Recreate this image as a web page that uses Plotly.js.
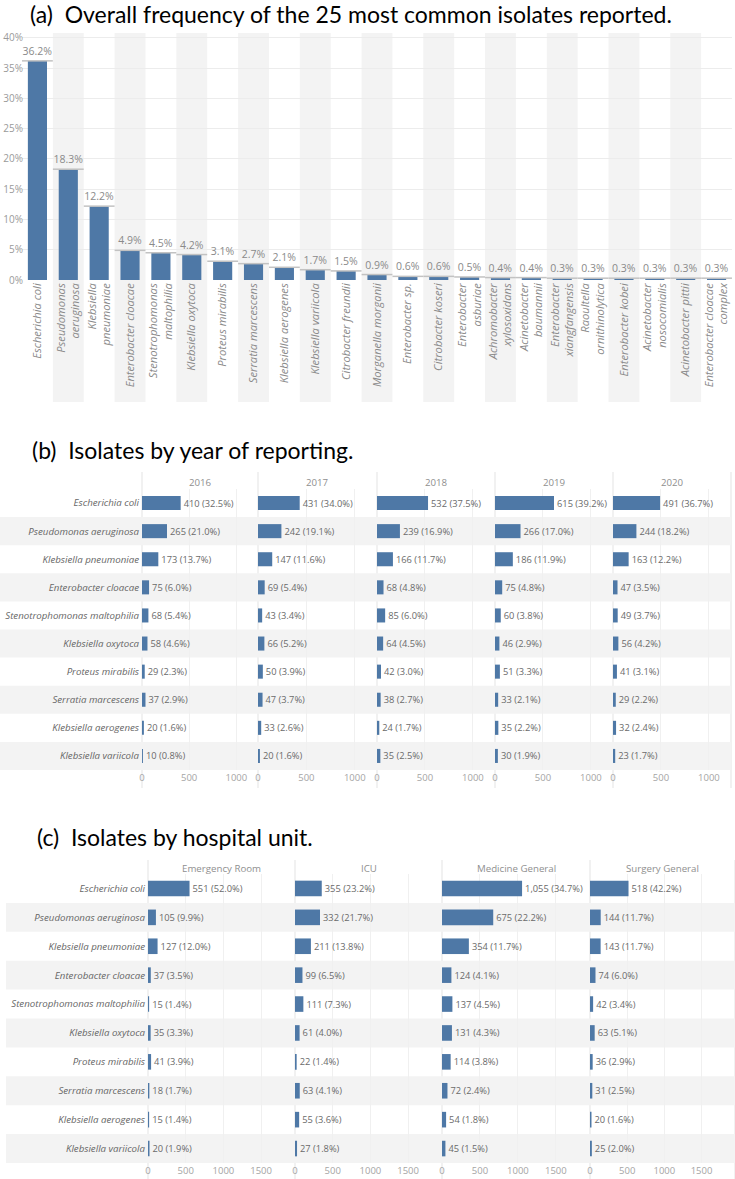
<!DOCTYPE html>
<html><head><meta charset="utf-8">
<script src="https://cdn.plot.ly/plotly-3.0.1.min.js"></script>
<style>html,body{margin:0;padding:0;background:#fff}#chart{width:735px;height:1179px}</style>
</head><body><div id="chart"></div>
<script>
// ---------- Data: panel (a) ----------
const isolatesA = ['Escherichia coli','Pseudomonas aeruginosa','Klebsiella pneumoniae','Enterobacter cloacae',
  'Stenotrophomonas maltophilia','Klebsiella oxytoca','Proteus mirabilis','Serratia marcescens',
  'Klebsiella aerogenes','Klebsiella variicola','Citrobacter freundii','Morganella morganii',
  'Enterobacter sp.','Citrobacter koseri','Enterobacter asburiae','Achromobacter xylosoxidans',
  'Acinetobacter baumannii','Enterobacter xiangfangensis','Raoultella ornithinolytica','Enterobacter kobei',
  'Acinetobacter nosocomialis','Acinetobacter pittii','Enterobacter cloacae complex'];
const tickLabelsA = ['Escherichia coli','Pseudomonas<br>aeruginosa','Klebsiella<br>pneumoniae','Enterobacter cloacae',
  'Stenotrophomonas<br>maltophilia','Klebsiella oxytoca','Proteus mirabilis','Serratia marcescens',
  'Klebsiella aerogenes','Klebsiella variicola','Citrobacter freundii','Morganella morganii',
  'Enterobacter sp.','Citrobacter koseri','Enterobacter<br>asburiae','Achromobacter<br>xylosoxidans',
  'Acinetobacter<br>baumannii','Enterobacter<br>xiangfangensis','Raoultella<br>ornithinolytica','Enterobacter kobei',
  'Acinetobacter<br>nosocomialis','Acinetobacter pittii','Enterobacter cloacae<br>complex'];
const pctA = [36.2,18.3,12.2,4.9,4.5,4.2,3.1,2.7,2.1,1.7,1.5,0.9,0.6,0.6,0.5,0.4,0.4,0.3,0.3,0.3,0.3,0.3,0.3];
const yTicksA = [0,5,10,15,20,25,30,35,40];

// ---------- Data: panel (b) ----------
const isolatesB = ['Escherichia coli','Pseudomonas aeruginosa','Klebsiella pneumoniae','Enterobacter cloacae',
  'Stenotrophomonas maltophilia','Klebsiella oxytoca','Proteus mirabilis','Serratia marcescens',
  'Klebsiella aerogenes','Klebsiella variicola'];
const years = ['2016','2017','2018','2019','2020'];
const count2016 = [410,265,173,75,68,58,29,37,20,10];
const pct2016   = [32.5,21.0,13.7,6.0,5.4,4.6,2.3,2.9,1.6,0.8];
const count2017 = [431,242,147,69,43,66,50,47,33,20];
const pct2017   = [34.0,19.1,11.6,5.4,3.4,5.2,3.9,3.7,2.6,1.6];
const count2018 = [532,239,166,68,85,64,42,38,24,35];
const pct2018   = [37.5,16.9,11.7,4.8,6.0,4.5,3.0,2.7,1.7,2.5];
const count2019 = [615,266,186,75,60,46,51,33,35,30];
const pct2019   = [39.2,17.0,11.9,4.8,3.8,2.9,3.3,2.1,2.2,1.9];
const count2020 = [491,244,163,47,49,56,41,29,32,23];
const pct2020   = [36.7,18.2,12.2,3.5,3.7,4.2,3.1,2.2,2.4,1.7];
const xTicksB = [0,500,1000];

// ---------- Data: panel (c) ----------
const units = ['Emergency Room','ICU','Medicine General','Surgery General'];
const countER  = [551,105,127,37,15,35,41,18,15,20];
const pctER    = [52.0,9.9,12.0,3.5,1.4,3.3,3.9,1.7,1.4,1.9];
const countICU = [355,332,211,99,111,61,22,63,55,27];
const pctICU   = [23.2,21.7,13.8,6.5,7.3,4.0,1.4,4.1,3.6,1.8];
const countMed = [1055,675,354,124,137,131,114,72,54,45];
const pctMed   = [34.7,22.2,11.7,4.1,4.5,4.3,3.8,2.4,1.8,1.5];
const countSurg= [518,144,143,74,42,63,36,31,20,25];
const pctSurg  = [42.2,11.7,11.7,6.0,3.4,5.1,2.9,2.5,1.6,2.0];
const xTicksC = [0,500,1000,1500];

// ---------- Styling / layout helpers ----------
const W = 735, H = 1179;
const fx = p => p / W, fy = p => 1 - p / H;
const BLUE = '#4e78a6', BAND = '#f3f3f3';
const TFONT = 'Lato, "Open Sans", sans-serif';
const FONT = '"Open Sans", "Noto Sans", sans-serif';
const TXT = '#6f6f6f';

const traces = [];
const shapes = [];
const annotations = [];
const layout = {
  width: W, height: H, margin: {l:0,r:0,t:0,b:0},
  paper_bgcolor: '#fff', plot_bgcolor: 'rgba(0,0,0,0)',
  showlegend: false, font: {family: FONT, color: TXT},
  bargap: 0.4
};

// Titles
[['(a)  Overall frequency of the 25 most common isolates reported.', 14, 28],
 ['(b)  Isolates by year of reporting.', 450, 30],
 ['(c)  Isolates by hospital unit.', 837, 35]].forEach(([t, y, x]) => {
  annotations.push({text: t, xref:'paper', yref:'paper', x: fx(x), y: fy(y),
    xanchor:'left', yanchor:'middle', showarrow:false,
    font:{family: TFONT, size: 23, color:'#000'}});
});

// ---------- Panel (a) ----------
traces.push({type:'bar', x: isolatesA, y: pctA, xaxis:'x', yaxis:'y',
  marker:{color: BLUE}, width: 0.62,
  text: pctA.map(v => v.toFixed(1) + '%'), textposition:'outside', cliponaxis:false,
  constraintext:'none',
  textfont:{family: FONT, size: 10.5, color:'#8a8a8a'}, hoverinfo:'none'});
traces.push({type:'scatter', mode:'markers', x: isolatesA, y: pctA, xaxis:'x', yaxis:'y',
  marker:{symbol:'line-ew', size: 22, line:{width:1.5, color:'#c2c2c2'}}, hoverinfo:'none', cliponaxis:false});
layout.xaxis = {domain:[fx(22), fx(732)], anchor:'y', type:'category',
  tickvals: isolatesA, ticktext: tickLabelsA.map(t => '<i>' + t.replace('<br>', '</i><br><i>') + '</i>'),
  tickangle: -90, tickfont:{family: FONT, size: 11.2, color:'#8a8a8a'},
  showgrid:false, zeroline:false, showline:false, ticks:'', range:[-0.5, isolatesA.length - 0.5]};
layout.yaxis = {domain:[fy(280), fy(33)], anchor:'x', range:[0, 40.8],
  tickvals: yTicksA, ticktext: yTicksA.map(v => v + '%'),
  tickfont:{family: FONT, size: 10, color:'#9a9a9a'}, gridcolor:'#ececec', gridwidth:1,
  zeroline:false, showline:false, ticks:'', ticklabelstandoff: -2};
isolatesA.forEach((c, i) => {
  if (i % 2 === 1) shapes.push({type:'rect', xref:'x', yref:'paper', x0: i - 0.5, x1: i + 0.5,
    y0: fy(402), y1: fy(33), fillcolor: BAND, line:{width:0}, layer:'below'});
});

// ---------- Facet builder for panels (b) and (c) ----------
function facetPanel(opts) {
  const {cats, groups, counts, pcts, edges, top, bottom, yName, firstX, range, ticks,
         headerY, divTop, divBot, barWidth, shadeRight, shadeLeft} = opts;
  const yKey = 'yaxis' + yName.slice(1);
  layout[yKey] = {domain:[fy(bottom), fy(top)], anchor:'x' + firstX, type:'category',
    autorange:'reversed', showgrid:false, zeroline:false, showline:false, ticks:'',
    tickfont:{family: FONT, size: 9.7, color:'#666'}, ticklabelstandoff: 2,
    tickvals: cats, ticktext: cats.map(c => '<i>' + c + '</i>')};
  groups.forEach((g, k) => {
    const xn = firstX + k;
    const xKey = 'xaxis' + xn;
    layout[xKey] = {domain:[fx(edges[k]), fx(edges[k+1])], anchor: yName, range: range,
      tickvals: ticks, showgrid:true, gridcolor:'#f0f0f0', zeroline:false, showline:false, ticks:'',
      tickfont:{family: FONT, size: 9.5, color:'#a5a5a5'}};
    traces.push({type:'bar', orientation:'h', y: cats, x: counts[k], xaxis:'x' + xn, yaxis: yName,
      marker:{color: BLUE}, width: barWidth,
      text: counts[k].map((v, i) => v.toLocaleString('en-US') + ' (' + pcts[k][i].toFixed(1) + '%)'),
      textposition:'outside', cliponaxis:false, constraintext:'none',
      textfont:{family: FONT, size: 9.3, color:'#6a6a6a'}, hoverinfo:'none'});
    annotations.push({text: g, xref:'paper', yref:'paper', x: fx((edges[k] + edges[k+1]) / 2), y: fy(headerY),
      xanchor:'center', yanchor:'middle', showarrow:false, font:{family: FONT, size: 9.7, color:'#8f8f8f'}});
  });
  edges.forEach(e => shapes.push({type:'line', xref:'paper', yref:'paper', x0: fx(e), x1: fx(e),
    y0: fy(divTop), y1: fy(divBot), line:{color:'#e3e3e3', width:1}, layer:'below'}));
  cats.forEach((c, i) => {
    if (i % 2 === 1) shapes.push({type:'rect', xref:'paper', yref: yName, x0: fx(shadeLeft), x1: fx(shadeRight),
      y0: i - 0.5, y1: i + 0.5, fillcolor: BAND, line:{width:0}, layer:'below'});
  });
}

facetPanel({cats: isolatesB, groups: years,
  counts:[count2016,count2017,count2018,count2019,count2020],
  pcts:[pct2016,pct2017,pct2018,pct2019,pct2020],
  edges:[142,258,377,495,613,731], top:489, bottom:770, yName:'y2', firstX:2,
  range:[0,1230], ticks: xTicksB, headerY:482, divTop:472, divBot:788, barWidth:0.5,
  shadeLeft:0, shadeRight:731});

facetPanel({cats: isolatesB, groups: units,
  counts:[countER,countICU,countMed,countSurg],
  pcts:[pctER,pctICU,pctMed,pctSurg],
  edges:[148,295,442,590,735], top:874, bottom:1163, yName:'y3', firstX:7,
  range:[0,1950], ticks: xTicksC, headerY:868, divTop:860, divBot:1179, barWidth:0.54,
  shadeLeft:6, shadeRight:735});

layout.shapes = shapes;
layout.annotations = annotations;
Plotly.newPlot('chart', traces, layout, {staticPlot:true, displayModeBar:false});
</script></body></html>
